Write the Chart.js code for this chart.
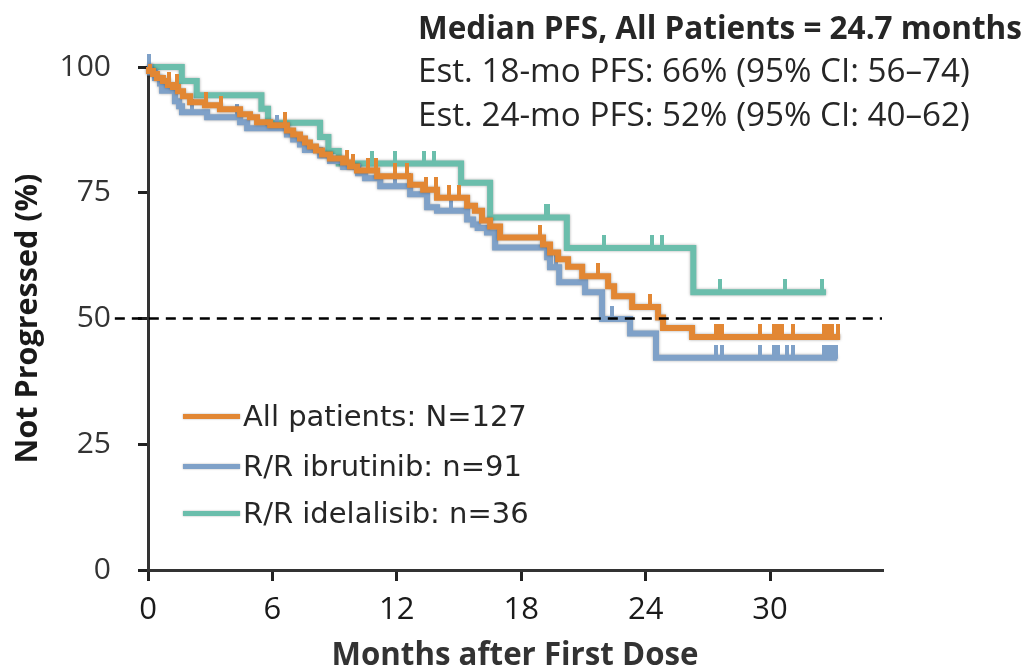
<!DOCTYPE html>
<html>
<head>
<meta charset="utf-8">
<script src="https://cdn.jsdelivr.net/npm/chart.js@4.4.0/dist/chart.umd.min.js"></script>
<style>
  body { margin: 0; background: #fff; }
  #wrap { position: relative; width: 1028px; height: 669px; }
  #km { position: absolute; left: 0; top: 0; }
  .note { position: absolute; left: 418px; font-family: 'Open Sans'; color: #262626; white-space: nowrap; }
  .note.bold { font-weight: bold; }
  .legtxt { position: absolute; left: 243px; font-family: 'DejaVu Sans'; color: #262626; white-space: nowrap; }
  .sw { position: absolute; left: 183px; width: 57px; height: 5px; box-shadow: 0 0 2px rgba(0,0,0,0.35); }
</style>
</head>
<body>
<div id="wrap">
  <canvas id="km" width="1028" height="669"></canvas>
  <div id="note1" class="note bold">Median PFS, All Patients = 24.7 months</div>
  <div id="note2" class="note">Est. 18-mo PFS: 66% (95% CI: 56–74)</div>
  <div id="note3" class="note">Est. 24-mo PFS: 52% (95% CI: 40–62)</div>
  <div id="legend"></div>
</div>
<script>
// step curves: time (months) where the level starts, and the level (%)
const allTimes = [0, 0.05, 0.24, 0.43, 0.72, 0.96, 1.2, 1.45, 1.69, 2.03, 2.75, 3.47, 4.44, 4.92, 5.26, 5.89,
  6.7, 7.0, 7.33, 7.57, 7.81, 8.1, 8.39, 8.78, 9.41, 9.74, 10.08, 11.05, 12.64, 13.27, 13.94, 15.39, 15.77,
  16.11, 16.5, 16.98, 19.05, 19.39, 19.78, 20.26, 20.94, 22.19, 22.48, 23.35, 24.6, 24.84, 26.24, 33.38];
const allPFS = [100, 99.2, 98.6, 97.8, 97.2, 96.4, 96.0, 95.2, 94.2, 93.0, 92.4, 91.6, 90.6, 90.0, 89.0, 88.4,
  87.4, 86.6, 85.8, 85.0, 84.2, 83.4, 82.6, 81.8, 81.0, 80.2, 79.4, 78.3, 76.6, 75.6, 74.0, 72.4, 71.4,
  69.5, 68.3, 66.1, 64.7, 63.1, 61.8, 60.3, 58.4, 56.4, 54.4, 52.3, 50.2, 48.1, 46.3, 46.3];
const allCensor = [1.0, 1.4, 2.8, 3.5, 6.6, 9.6, 9.9, 10.6, 11.0, 11.9, 12.5, 13.4, 13.9, 14.5, 15.0, 18.9,
  21.7, 24.2, 27.4, 27.5, 27.7, 29.5, 30.2, 30.4, 30.6, 31.1, 32.6, 32.8, 33.0, 33.3];

const ibrTimes = [0, 0.1, 0.34, 0.58, 0.68, 1.3, 1.5, 1.64, 2.85, 4.44, 4.78, 6.7, 7.0, 7.33, 7.57, 8.3, 8.78,
  9.41, 10.13, 10.47, 11.2, 12.64, 13.46, 13.94, 15.39, 15.68, 15.9, 16.35, 16.74, 19.25, 19.39, 19.83,
  21.08, 21.9, 23.25, 24.5, 33.24];
const ibrPFS = [100, 98.9, 97.8, 96.7, 95.3, 93.2, 92.2, 91.0, 90.0, 89.0, 87.8, 86.6, 85.6, 84.6, 83.5, 82.4, 81.3,
  80.1, 78.9, 77.9, 76.3, 74.7, 72.1, 71.4, 69.7, 68.7, 68.0, 67.1, 64.1, 62.2, 60.2, 57.2,
  55.2, 49.9, 47.0, 42.2, 42.2];
const ibrCensor = [0.05, 2.1, 4.3, 6.2, 11.9, 12.6, 14.6, 19.7, 22.4, 27.4, 27.7, 29.5, 30.2, 30.4, 30.8, 31.1,
  32.6, 32.8, 33.0, 33.2];

const ideTimes = [0, 1.63, 2.35, 5.47, 5.79, 8.3, 8.7, 9.2, 15.1, 16.5, 20.2, 26.3, 32.7];
const idePFS = [100, 97.2, 94.4, 91.7, 88.9, 86.1, 83.3, 80.8, 77.0, 70.1, 64.0, 55.2, 55.2];
const ideCensor = [0.05, 10.8, 11.9, 13.3, 13.8, 19.2, 19.3, 22.0, 24.3, 24.8, 27.6, 30.7, 32.5];

const seriesNames = ['All patients: N=127', 'R/R ibrutinib: n=91', 'R/R idelalisib: n=36'];
const seriesColors = ['#E28734', '#7FA1C8', '#6BBEAC'];

const xTicks = [0, 6, 12, 18, 24, 30];
const yTicks = [0, 25, 50, 75, 100];
const medianLevel = 50;
const xMax = 35.4;

// font size that makes a text a given width
const measure = document.createElement('canvas').getContext('2d');
function fitSize(text, family, weight, width) {
  measure.font = weight + ' 100px ' + family;
  return 100 * width / measure.measureText(text).width;
}

function toPoints(times, vals) {
  return times.map((t, i) => ({ x: t, y: vals[i] }));
}
function levelAt(times, vals, t) {
  let v = vals[0];
  for (let i = 0; i < times.length; i++) if (times[i] <= t) v = vals[i];
  return v;
}
function censorPoints(censor, times, vals) {
  return censor.map(t => ({ x: t, y: levelAt(times, vals, t) }));
}
// small vertical tick that sits on top of the curve
function tickMark(color) {
  const c = document.createElement('canvas');
  c.width = 4; c.height = 26;
  const g = c.getContext('2d');
  g.fillStyle = color;
  g.fillRect(0, 0, 4, 14);
  return c;
}

const curves = [
  [allTimes, allPFS, allCensor],
  [ibrTimes, ibrPFS, ibrCensor],
  [ideTimes, idePFS, ideCensor]
];

const datasets = [{
  label: 'median',
  data: [{ x: -1.6, y: medianLevel }, { x: xMax, y: medianLevel }],
  borderColor: '#000',
  borderWidth: 2.5,
  borderDash: [10, 7],
  pointRadius: 0,
  clip: false,
  order: 0
}];
curves.forEach((c, i) => {
  datasets.push({
    label: seriesNames[i] + ' censored',
    data: censorPoints(c[2], c[0], c[1]),
    showLine: false,
    pointStyle: tickMark(seriesColors[i]),
    pointRadius: 3,
    clip: false,
    order: 1 + i * 2
  });
  datasets.push({
    label: seriesNames[i],
    data: toPoints(c[0], c[1]),
    borderColor: seriesColors[i],
    borderWidth: 6,
    stepped: true,
    pointRadius: 0,
    clip: false,
    kmLine: true,
    order: 2 + i * 2
  });
});

const shadowPlugin = {
  id: 'kmShadow',
  beforeDatasetDraw(chart, args) {
    if (!chart.data.datasets[args.index].kmLine) return;
    const ctx = chart.ctx;
    ctx.save();
    ctx.shadowColor = 'rgba(0,0,0,0.35)';
    ctx.shadowBlur = 3;
  },
  afterDatasetDraw(chart, args) {
    if (!chart.data.datasets[args.index].kmLine) return;
    chart.ctx.restore();
  }
};

const xTitle = 'Months after First Dose';
const yTitle = 'Not Progressed (%)';
const xTitleSize = fitSize(xTitle, "'Open Sans'", 'bold', 367);
const yTitleSize = fitSize(yTitle, "'Open Sans'", 'bold', 290);

new Chart(document.getElementById('km'), {
  type: 'line',
  data: { datasets },
  plugins: [shadowPlugin],
  options: {
    responsive: false,
    animation: false,
    events: [],
    layout: { padding: { left: 0, top: 67, right: 146, bottom: 0 } },
    plugins: { legend: { display: false }, tooltip: { enabled: false } },
    scales: {
      x: {
        type: 'linear',
        min: 0,
        max: xMax,
        afterBuildTicks: s => { s.ticks = xTicks.map(v => ({ value: v })); },
        afterFit: s => { s.height = 99; },
        ticks: { font: { family: 'Open Sans', size: 31 }, color: '#1a1a1a', padding: 11, maxRotation: 0 },
        grid: { drawOnChartArea: false, tickLength: 11, color: '#222', lineWidth: 3 },
        border: { color: '#333', width: 3 },
        title: {
          display: true, text: xTitle, color: '#333',
          font: { family: 'Open Sans', size: xTitleSize, weight: 'bold', lineHeight: 0.82 }, padding: 0
        }
      },
      y: {
        min: 0,
        max: 100,
        afterBuildTicks: s => { s.ticks = yTicks.map(v => ({ value: v })); },
        afterFit: s => { s.width = 148; },
        ticks: { font: { family: 'Open Sans', size: 30 }, color: '#333', padding: 27 },
        grid: { drawOnChartArea: false, tickLength: 10, color: '#222', lineWidth: 3 },
        border: { color: '#333', width: 3 },
        title: {
          display: true, text: yTitle, color: '#1a1a1a',
          font: { family: 'Open Sans', size: yTitleSize, weight: 'bold', lineHeight: 1 }, padding: { top: 13, bottom: 0 }
        }
      }
    }
  }
});

// text block at top right, placed by baseline
const noteSize1 = fitSize('Median PFS, All Patients = 24.7 months', "'Open Sans'", 'bold', 604);
const noteSize2 = fitSize('Est. 18-mo PFS: 66% (95% CI: 56–74)', "'Open Sans'", 'normal', 552);
[['note1', noteSize1, 38.5], ['note2', noteSize2, 82], ['note3', noteSize2, 126]].forEach(n => {
  const el = document.getElementById(n[0]);
  el.style.fontSize = n[1] + 'px';
  el.style.lineHeight = n[1] + 'px';
  el.style.top = (n[2] - 0.888 * n[1]) + 'px';
});

// legend inside the plot, bottom left
const legendRows = [416, 466, 513];
const legSize = fitSize(seriesNames[0], "'DejaVu Sans'", 'normal', 284);
const legendBox = document.getElementById('legend');
seriesNames.forEach((name, i) => {
  const sw = document.createElement('div');
  sw.className = 'sw';
  sw.style.top = (legendRows[i] - 2.5) + 'px';
  sw.style.background = seriesColors[i];
  legendBox.appendChild(sw);
  const txt = document.createElement('div');
  txt.className = 'legtxt';
  txt.textContent = name;
  txt.style.fontSize = legSize + 'px';
  txt.style.lineHeight = legSize + 'px';
  txt.style.top = (legendRows[i] + 0.3645 * legSize - 0.846 * legSize) + 'px';
  legendBox.appendChild(txt);
});
</script>
</body>
</html>
